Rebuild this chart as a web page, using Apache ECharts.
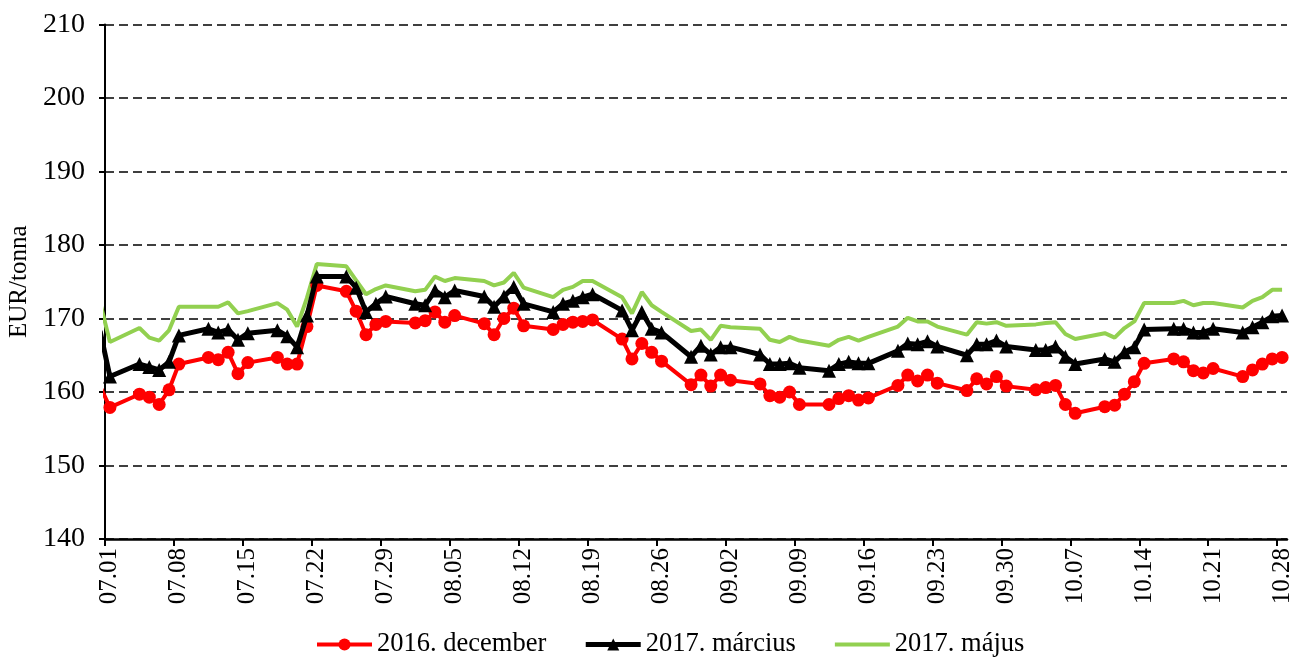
<!DOCTYPE html>
<html>
<head>
<meta charset="utf-8">
<script src="https://cdn.jsdelivr.net/npm/echarts@6/dist/echarts.min.js"></script>
<style>
html,body{margin:0;padding:0;background:#fff;}
#chart{width:1296px;height:657px;}
</style>
</head>
<body>
<div id="chart"></div>
<script>
// Trading days (2016), MM.DD
var dates = ['06.30','07.01','07.04','07.05','07.06','07.07','07.08','07.11','07.12','07.13','07.14','07.15','07.18','07.19','07.20','07.21','07.22','07.25','07.26','07.27','07.28','07.29','08.01','08.02','08.03','08.04','08.05','08.08','08.09','08.10','08.11','08.12','08.15','08.16','08.17','08.18','08.19','08.22','08.23','08.24','08.25','08.26','08.29','08.30','08.31','09.01','09.02','09.05','09.06','09.07','09.08','09.09','09.12','09.13','09.14','09.15','09.16','09.19','09.20','09.21','09.22','09.23','09.26','09.27','09.28','09.29','09.30','10.03','10.04','10.05','10.06','10.07','10.10','10.11','10.12','10.13','10.14','10.17','10.18','10.19','10.20','10.21','10.24','10.25','10.26','10.27','10.28'];

var dec2016 = [160.8,157.9,
159.7,159.3,158.3,160.3,163.8,
164.7,164.4,165.4,162.5,164.0,
164.7,163.8,163.8,168.9,174.5,
173.7,171.0,167.8,169.2,169.6,
169.4,169.7,170.9,169.5,170.4,
169.3,167.8,170.0,171.4,169.0,
168.5,169.2,169.5,169.6,169.8,
167.2,164.5,166.6,165.4,164.2,
161.0,162.3,160.8,162.3,161.6,
161.1,159.5,159.3,160.0,158.3,
158.3,159.1,159.5,158.9,159.2,
160.9,162.3,161.5,162.3,161.2,
160.2,161.8,161.1,162.1,160.8,
160.3,160.6,160.9,158.3,157.1,
158.0,158.2,159.7,161.4,163.9,
164.5,164.1,162.9,162.6,163.2,
162.1,163.0,163.8,164.5,164.7];

var mar2017 = [168.3,162.1,
163.8,163.4,163.0,164.1,167.7,
168.6,168.1,168.5,167.1,168.0,
168.4,167.6,166.1,170.4,175.7,
175.7,174.2,170.9,172.0,173.0,
172.0,171.8,173.8,172.9,173.8,
173.0,171.6,173.0,174.3,172.0,
170.9,172.0,172.4,172.9,173.3,
171.1,168.4,170.9,168.6,168.1,
164.8,166.3,165.1,166.1,166.1,
165.1,163.8,163.8,163.9,163.3,
162.9,163.8,164.1,163.9,163.9,
165.6,166.6,166.5,166.9,166.2,
165.0,166.5,166.5,167.0,166.2,
165.7,165.7,166.2,164.8,163.8,
164.5,164.1,165.4,166.1,168.5,
168.6,168.6,168.1,168.1,168.6,
168.1,168.8,169.5,170.3,170.4];

var may2017 = [172.2,166.8,
168.7,167.4,167.0,168.4,171.6,
171.6,171.6,172.2,170.7,171.0,
172.1,171.2,168.9,172.8,177.4,
177.1,175.2,173.3,174.0,174.5,
173.7,173.9,175.7,175.1,175.5,
175.1,174.5,174.9,176.2,174.2,
172.9,173.9,174.3,175.1,175.1,
172.9,170.7,173.6,171.8,170.9,
168.3,168.5,167.1,169.0,168.8,
168.6,167.1,166.8,167.5,167.0,
166.3,167.1,167.5,167.0,167.5,
168.9,170.1,169.6,169.6,168.9,
167.8,169.5,169.3,169.5,169.0,
169.2,169.4,169.5,167.9,167.2,
168.0,167.4,168.7,169.6,172.1,
172.1,172.4,171.8,172.1,172.1,
171.5,172.4,172.9,173.9,173.9];

var seriesNames = ['2016. december','2017. március','2017. május'];
var tickLabels = ['07.01','07.08','07.15','07.22','07.29','08.05','08.12','08.19','08.26','09.02','09.09','09.16','09.23','09.30','10.07','10.14','10.21','10.28'];
var axisStart = '07.01', axisEnd = '10.29';
var yMin = 140, yMax = 210, yStep = 10;

// date string -> day offset from axis start
function dayOf(s) {
  var p = s.split('.');
  var a = axisStart.split('.');
  var t = Date.UTC(2016, +p[0] - 1, +p[1]);
  var t0 = Date.UTC(2016, +a[0] - 1, +a[1]);
  return Math.round((t - t0) / 86400000);
}
function labelOf(v) {
  var a = axisStart.split('.');
  var t = new Date(Date.UTC(2016, +a[0] - 1, +a[1]) + Math.floor(v) * 86400000);
  var m = t.getUTCMonth() + 1, d = t.getUTCDate();
  return (m < 10 ? '0' : '') + m + '.' + (d < 10 ? '0' : '') + d;
}
function pairs(vals) {
  return dates.map(function (s, i) { return [dayOf(s) + 0.5, vals[i]]; });
}
var tickPos = tickLabels.map(function (s) { return dayOf(s); });
var labelPos = tickLabels.map(function (s) { return dayOf(s) + 0.5; });

var FONT = 'Liberation Serif';
var chart = echarts.init(document.getElementById('chart'));
chart.setOption({
  animation: false,
  backgroundColor: '#fff',
  grid: { left: 105, right: 9, top: 24.5, bottom: 118, outerBoundsMode: 'none', containLabel: false },
  legend: {
    left: 310, top: 626,
    itemWidth: 55, itemHeight: 15, itemGap: 37,
    lineStyle: { width: 'inherit' },
    textStyle: { fontFamily: FONT, fontSize: 26.5, color: '#000' },
    data: [
      { name: seriesNames[0] },
      { name: seriesNames[1] },
      { name: seriesNames[2], itemStyle: { opacity: 0 } }
    ]
  },
  xAxis: {
    type: 'value',
    min: 0, max: dayOf(axisEnd),
    axisLine: { lineStyle: { color: '#000', width: 2.5 } },
    axisTick: { show: true, length: 7, lineStyle: { color: '#000', width: 2 }, customValues: tickPos },
    axisLabel: {
      rotate: 90, margin: 9, customValues: labelPos,
      fontFamily: FONT, fontSize: 25, color: '#000',
      formatter: function (v) { return labelOf(v); }
    },
    splitLine: { show: false }
  },
  yAxis: {
    type: 'value',
    min: yMin, max: yMax, interval: yStep,
    name: 'EUR/tonna', nameLocation: 'middle', nameRotate: 90, nameGap: 72,
    nameTextStyle: { fontFamily: FONT, fontSize: 25, color: '#000' },
    axisLine: { show: true, lineStyle: { color: '#000', width: 2 } },
    axisTick: { show: true, length: 6, lineStyle: { color: '#000', width: 2 } },
    axisLabel: { margin: 20, fontFamily: FONT, fontSize: 28, color: '#000' },
    splitLine: { show: true, lineStyle: { color: '#000', width: 1.5, type: [9, 5] } }
  },
  series: [
    {
      name: seriesNames[0], type: 'line', data: pairs(dec2016), clip: true,
      symbol: 'circle', symbolSize: 13, showAllSymbol: true,
      itemStyle: { color: '#FF0000' }, lineStyle: { color: '#FF0000', width: 4 }, z: 3
    },
    {
      name: seriesNames[1], type: 'line', data: pairs(mar2017), clip: true,
      symbol: 'triangle', symbolSize: 14, showAllSymbol: true,
      itemStyle: { color: '#000' }, lineStyle: { color: '#000', width: 5 }, z: 4
    },
    {
      name: seriesNames[2], type: 'line', data: pairs(may2017), clip: true,
      symbol: 'none', showSymbol: false,
      itemStyle: { color: '#92D050' }, lineStyle: { color: '#92D050', width: 4 }, z: 2
    }
  ]
});
</script>
</body>
</html>
